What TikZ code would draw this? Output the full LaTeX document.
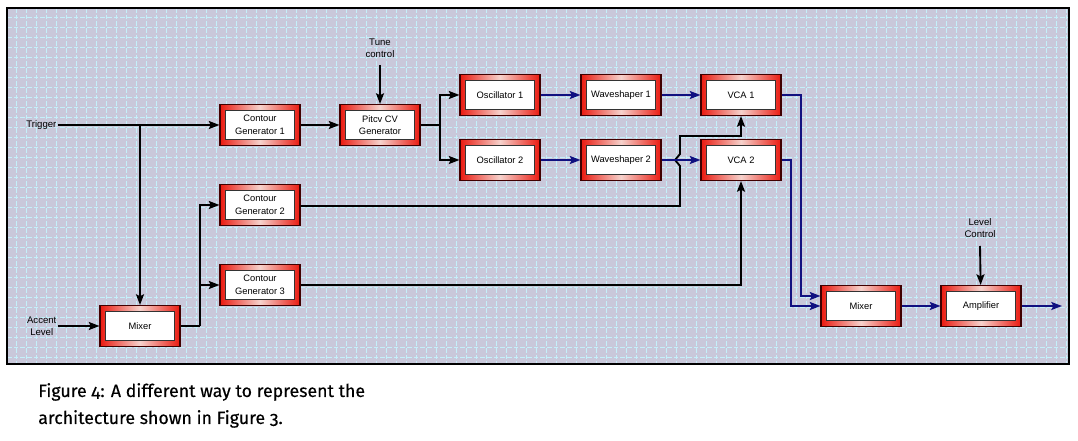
\documentclass[tikz,border=0pt]{standalone}
\usepackage{fontspec}
\setmainfont{Liberation Sans}
\newfontfamily\capfont[Numbers=OldStyle,FakeBold=0.35]{Fira Sans}
\usetikzlibrary{arrows.meta,calc}
\definecolor{bggrid}{HTML}{C9C8DA}
\definecolor{gridln}{HTML}{C4F0FA}
\definecolor{frred}{HTML}{EA1A10}
\definecolor{frhi}{HTML}{F6D2CC}
\definecolor{navy}{HTML}{101080}
\begin{document}
\begin{tikzpicture}[x=0.75pt,y=-0.75pt,
  blk/.style={rectangle, draw=black!75!red, line width=0.8pt,
    minimum width=60pt, minimum height=30.75pt, inner sep=0pt, align=center,
    font=\fontsize{7}{9.4}\selectfont,
    left color=frred, right color=frred, middle color=frhi,
    path picture={\fill[white, draw=black!80, line width=0.7pt]
      ([shift={(3.9pt,-4.5pt)}]path picture bounding box.north west) rectangle
      ([shift={(-3.9pt,4.5pt)}]path picture bounding box.south east);}},
  lbl/.style={align=center, font=\fontsize{7.2}{9}\selectfont, inner sep=1pt},
  arr/.style={line width=1.4pt, black, -{Stealth[length=8pt,width=6pt,inset=1.5pt]}},
  ln/.style={line width=1.4pt, black},
  barr/.style={line width=1.3pt, navy, -{Stealth[length=8pt,width=6pt,inset=1.5pt]}},
  captxt/.style={anchor=base west, inner sep=0pt, font=\capfont\fontsize{13.3}{18}\selectfont}
]
\useasboundingbox (0,0) rectangle (1078,441);
\fill[white] (0,0) rectangle (1078,441);
% background panel with grid
\fill[bggrid] (7,8) rectangle (1069,364);
\begin{scope}
  \clip (7,8) rectangle (1069,364);
  \foreach \x in {16,26,...,1066}
    \draw[gridln, line width=0.5pt, dash pattern=on 3.5pt off 1.5pt] (\x,8) -- (\x,364);
  \foreach \y in {17,27,...,357}
    \draw[gridln, line width=0.5pt, dash pattern=on 3.5pt off 1.5pt] (7,\y) -- (1069,\y);
\end{scope}
\draw[line width=1.2pt] (7,8) rectangle (1069,364);

% blocks
\node[blk] (cg1) at (260,125) {Contour\\Generator 1};
\node[blk] (pcv) at (380,125) {Pitcv CV\\Generator};
\node[blk] (osc1) at (500,95) {Oscillator 1};
\node[blk] (osc2) at (500,160) {Oscillator 2};
\node[blk] (ws1) at (621,95) {Waveshaper 1};
\node[blk] (ws2) at (621,160) {Waveshaper 2};
\node[blk] (vca1) at (741,95) {VCA 1};
\node[blk] (vca2) at (741,160) {VCA 2};
\node[blk] (cg2) at (260,205) {Contour\\Generator 2};
\node[blk] (cg3) at (260,285) {Contour\\Generator 3};
\node[blk] (mix1) at (140,326) {Mixer};
\node[blk] (mix2) at (861,306) {Mixer};
\node[blk] (amp) at (981,306) {Amplifier};

% labels
\node[lbl, anchor=east] (trig) at (58,125) {Trigger};
\node[lbl] (tune) at (380,48) {Tune\\control};
\node[lbl, anchor=east] (acc) at (58,326) {Accent\\Level};
\node[lbl] (lev) at (980,228) {Level\\Control};

% coordinates
\coordinate (j1) at (140,125);
\coordinate (sp) at (440,125);
\coordinate (sp2) at (200,326);
\coordinate (h1) at (680,206);
\coordinate (h2) at (680,166);
\coordinate (h3) at (675,160);
\coordinate (h4) at (680,154);
\coordinate (h5) at (680,136);
\coordinate (v1) at (801,95);
\coordinate (v2) at (791,160);
\coordinate (out) at (1062,306);
\coordinate (tuneend) at (380,65);
\coordinate (levend) at (980,246);

% control connectors
\draw[arr] (trig) -- (cg1);
\draw[arr] (j1) -- (mix1);
\draw[arr] (cg1) -- (pcv);
\draw[arr] (tuneend) -- (pcv);
\draw[ln] (pcv.east) -- (sp);
\draw[arr] (sp) |- (osc1);
\draw[arr] (sp) |- (osc2);
\draw[arr] (acc) -- (mix1);
\draw[ln] (mix1.east) -- (sp2);
\draw[arr] (sp2) |- (cg2);
\draw[arr] (sp2) |- (cg3);
\draw[arr] (cg2.east |- h1) -- (h1) -- (h2) -- (h3) -- (h4) -- (h5) -| (vca1.south);
\draw[arr] (cg3.east) -| (vca2.south);
\draw[arr] (levend) -- (amp);

% audio connectors
\draw[barr] (osc1) -- (ws1);
\draw[barr] (ws1) -- (vca1);
\draw[barr] (osc2) -- (ws2);
\draw[barr] (ws2) -- (vca2);
\draw[barr] (vca1.east) -- (v1) |- ([yshift=7.5pt]mix2.west);
\draw[barr] (vca2.east) -- (v2) |- (mix2.west);
\draw[barr] (mix2) -- (amp);
\draw[barr] (amp) -- (out);

% caption
\node[captxt] (cap1) at (38,397) {Figure 4: A different way to represent the};
\node[captxt] (cap2) at (38,424) {architecture shown in Figure 3.};
\end{tikzpicture}
\end{document}
